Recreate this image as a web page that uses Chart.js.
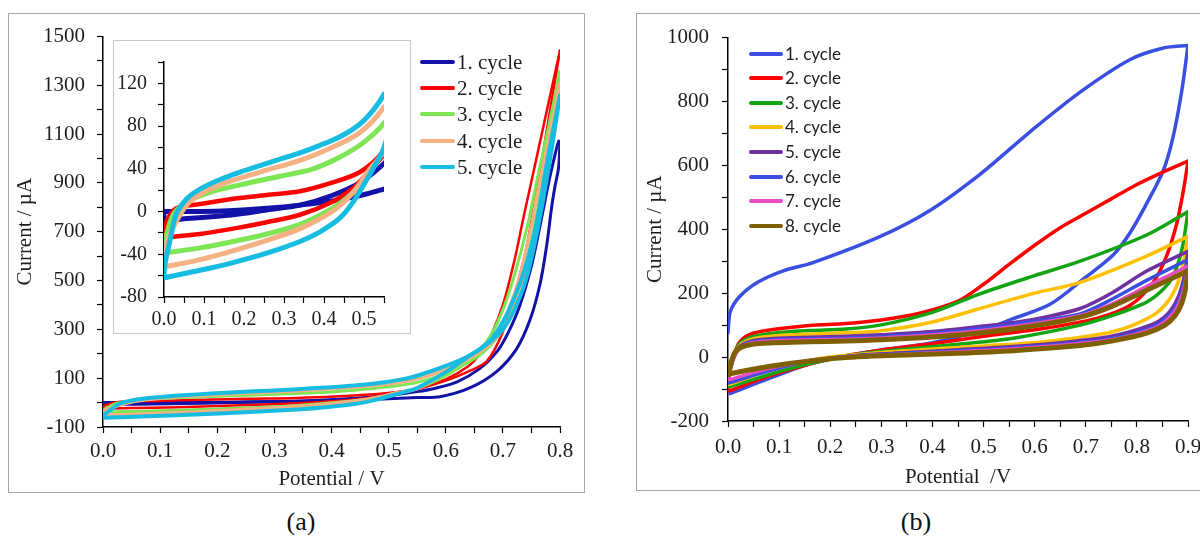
<!DOCTYPE html>
<html>
<head>
<meta charset="utf-8">
<script src="https://cdn.jsdelivr.net/npm/chart.js@4.4.0/dist/chart.umd.min.js"></script>
<style>
  html,body{margin:0;padding:0;background:#fff;}
  body{width:1200px;height:537px;position:relative;overflow:hidden;font-family:'Liberation Serif',serif;}
  .box{position:absolute;background:#fff;}
  canvas{display:block;}
  .lgrow{position:absolute;white-space:nowrap;color:#222;}
  .lgline{position:absolute;}
  .cap{position:absolute;font-family:'Liberation Serif',serif;font-size:26px;color:#111;transform:translate(-50%,-50%);}
</style>
</head>
<body>
<div class="box" style="left:8px;top:13px;width:575px;height:478px;border:1px solid #a6a6a6;"><canvas id="cA" width="575" height="478"></canvas></div>
<div class="box" style="left:113px;top:40px;width:296px;height:292px;border:1px solid #c8c8c8;"><canvas id="cIn" width="296" height="292"></canvas></div>
<div class="box" style="left:636px;top:13px;width:600px;height:476px;border:1px solid #a6a6a6;"><canvas id="cB" width="600" height="476"></canvas></div>
<div id="legA"></div>
<div id="legB"></div>
<div class="cap" style="left:301px;top:522px;">(a)</div>
<div class="cap" style="left:916px;top:522px;">(b)</div>
<script>
// ---------------- Panel (a): potential (V), current (µA) ----------------
const aLabels = ['1. cycle','2. cycle','3. cycle','4. cycle','5. cycle'];
const aColors = ['#1212a8','#ff0000','#7ee554','#f4b183','#17bde0'];
// forward (upper at low potential) and reverse branches of each cycle
const aC1Fwd = [[0,0],[0.09,0],[0.173,1],[0.257,3],[0.34,6],[0.42,10],[0.49,15],[0.55,21],[0.59,24],[0.642,60],[0.689,127],[0.724,220],[0.7475,339],[0.765,485],[0.7767,644],[0.7855,803],[0.791,883],[0.7975,963],[0.8,1065]];
const aC1Rev = [[0.8,1065],[0.7976,1071],[0.7913,1016],[0.78,900],[0.765,724],[0.75,560],[0.73,400],[0.71,290],[0.69,210],[0.66,140],[0.62,85],[0.58,58],[0.55,45],[0.49,27],[0.42,15],[0.34,6],[0.257,1.5],[0.173,-3],[0.057,-6.5],[0,-7.5],[0,0]];
const aC2Fwd = [[0,-24],[0.003,-12],[0.03,3],[0.09,7],[0.173,12],[0.257,15.5],[0.34,19],[0.42,27],[0.49,37],[0.55,57],[0.6,90],[0.64,128],[0.672,170],[0.7,290],[0.724,472],[0.742,644],[0.76,880],[0.78,1160],[0.8,1443]];
const aC2Rev = [[0.8,1443],[0.78,1229],[0.76,1014],[0.74,800],[0.733,724],[0.72,580],[0.7,400],[0.68,280],[0.66,200],[0.64,150],[0.6,95],[0.55,54],[0.523,42],[0.473,22],[0.42,9],[0.34,-3],[0.257,-10],[0.173,-16],[0.09,-21],[0.01,-24],[0,-24]];
const aC3Fwd = [[0,-39],[0.003,-27],[0.023,-3],[0.057,9],[0.115,18],[0.19,25],[0.29,33],[0.373,40],[0.44,51],[0.5,65],[0.55,83],[0.6,120],[0.64,165],[0.67,215],[0.7,300],[0.72,400],[0.74,560],[0.76,780],[0.78,1050],[0.8,1358]];
const aC3Rev = [[0.8,1358],[0.78,1130],[0.76,915],[0.743,724],[0.72,520],[0.7,380],[0.68,280],[0.66,215],[0.64,170],[0.6,110],[0.55,57],[0.515,39],[0.473,18],[0.42,3],[0.34,-12],[0.257,-21],[0.173,-28],[0.09,-34],[0,-39]];
const aC4Fwd = [[0,-52],[0.003,-33],[0.04,-3],[0.073,12],[0.14,25],[0.24,37],[0.34,48],[0.42,60],[0.49,74],[0.55,98],[0.6,135],[0.64,180],[0.67,225],[0.7,300],[0.72,390],[0.74,530],[0.76,740],[0.78,1000],[0.8,1308]];
const aC4Rev = [[0.8,1308],[0.78,1075],[0.76,850],[0.75,724],[0.73,520],[0.71,380],[0.69,290],[0.67,235],[0.64,185],[0.6,125],[0.55,57],[0.515,40],[0.473,18],[0.42,0],[0.34,-16],[0.257,-27],[0.17,-37],[0.09,-45],[0,-52]];
const aC5Fwd = [[0,-62],[0.002,-50],[0.015,-27],[0.03,-3],[0.057,12],[0.09,21],[0.14,30],[0.19,37],[0.24,43],[0.29,49],[0.34,55],[0.39,62],[0.44,70],[0.49,82],[0.523,95],[0.55,110],[0.6,150],[0.642,193],[0.67,235],[0.7,300],[0.72,380],[0.74,500],[0.76,700],[0.78,960],[0.8,1258]];
const aC5Rev = [[0.8,1258],[0.78,1020],[0.758,724],[0.74,560],[0.72,430],[0.7,330],[0.68,260],[0.66,220],[0.642,193],[0.6,125],[0.55,60],[0.53,45],[0.507,30],[0.473,9],[0.44,-6],[0.39,-19],[0.34,-28],[0.257,-39],[0.17,-48],[0.09,-55],[0,-62]];
const aBranches = [[aC1Fwd,aC1Rev],[aC2Fwd,aC2Rev],[aC3Fwd,aC3Rev],[aC4Fwd,aC4Rev],[aC5Fwd,aC5Rev]];
const aWidthMain = [3,2.5,3,3.5,4];
const aWidthInset = [5,4.5,5,5,5];

// ---------------- Panel (b) ----------------
const bLabels = ['1. cycle','2. cycle','3. cycle','4. cycle','5. cycle','6. cycle','7. cycle','8. cycle'];
const bColors = ['#3a4fe2','#ff0000','#12a412','#ffc000','#7030a0','#3a4fe2','#e84cc4','#7f6000'];
const bC1Fwd = [[0,77],[0.0045,142],[0.022,188],[0.058,234],[0.108,270],[0.165,295],[0.297,377],[0.395,459],[0.493,572],[0.591,705],[0.689,829],[0.787,931],[0.852,967],[0.9,975]];
const bC1Rev = [[0.9,975],[0.888,835],[0.871,690],[0.852,585],[0.819,480],[0.787,390],[0.754,320],[0.7,250],[0.63,165],[0.558,120],[0.5,85],[0.4,45],[0.303,23],[0.231,3],[0.159,-22],[0.087,-63],[0.004,-114]];
const bC2Fwd = [[0,-105],[0.004,-45],[0.02,40],[0.043,71],[0.087,86],[0.159,99],[0.231,105],[0.303,117],[0.375,137],[0.45,175],[0.5,228],[0.55,290],[0.6,350],[0.65,405],[0.7,450],[0.75,495],[0.8,540],[0.85,578],[0.9,613]];
const bC2Rev = [[0.9,613],[0.891,521],[0.878,418],[0.858,316],[0.832,234],[0.787,162],[0.721,121],[0.62,90],[0.5,65],[0.4,42],[0.3,22],[0.2,-5],[0.13,-35],[0.07,-65],[0.004,-105],[0,-105]];
const bC3Fwd = [[0,-92],[0.004,-40],[0.02,35],[0.045,62],[0.09,75],[0.16,83],[0.23,88],[0.297,100],[0.4,140],[0.493,198],[0.6,255],[0.689,300],[0.819,382],[0.9,455]];
const bC3Rev = [[0.9,455],[0.888,336],[0.871,254],[0.852,213],[0.819,172],[0.754,131],[0.689,100],[0.558,59],[0.45,40],[0.35,25],[0.25,8],[0.16,-20],[0.09,-50],[0.004,-92],[0,-92]];
const bC4Fwd = [[0,-85],[0.004,-40],[0.02,30],[0.045,55],[0.09,66],[0.16,72],[0.23,76],[0.297,82],[0.4,110],[0.493,152],[0.6,200],[0.689,234],[0.819,316],[0.9,378]];
const bC4Rev = [[0.9,378],[0.885,255],[0.865,184],[0.832,131],[0.754,80],[0.624,49],[0.5,35],[0.4,25],[0.3,14],[0.2,0],[0.13,-22],[0.07,-48],[0.004,-85],[0,-85]];
const bC5Fwd = [[0,-75],[0.004,-35],[0.02,28],[0.045,50],[0.09,58],[0.16,62],[0.23,65],[0.3,70],[0.4,80],[0.5,97],[0.56,108],[0.62,125],[0.689,152],[0.75,200],[0.82,270],[0.9,331]];
const bC5Rev = [[0.9,331],[0.893,255],[0.88,185],[0.86,135],[0.83,102],[0.75,65],[0.65,45],[0.55,32],[0.45,23],[0.35,14],[0.25,5],[0.15,-15],[0.07,-45],[0.004,-75],[0,-75]];
const bC6Fwd = [[0,-80],[0.004,-38],[0.02,25],[0.045,47],[0.09,54],[0.16,57],[0.23,60],[0.3,64],[0.4,74],[0.5,90],[0.6,112],[0.689,135],[0.75,180],[0.819,240],[0.9,305]];
const bC6Rev = [[0.9,305],[0.893,235],[0.88,170],[0.86,125],[0.83,94],[0.75,58],[0.65,40],[0.55,28],[0.45,20],[0.35,12],[0.25,4],[0.15,-15],[0.07,-48],[0.004,-80],[0,-80]];
const bC7Fwd = [[0,-70],[0.004,-32],[0.02,22],[0.045,44],[0.09,51],[0.16,54],[0.23,56],[0.3,60],[0.4,70],[0.5,84],[0.6,105],[0.689,130],[0.75,165],[0.82,222],[0.9,285]];
const bC7Rev = [[0.9,285],[0.893,220],[0.88,160],[0.86,118],[0.83,88],[0.75,54],[0.65,37],[0.55,25],[0.45,17],[0.35,10],[0.25,3],[0.15,-13],[0.07,-40],[0.004,-70],[0,-70]];
const bC8Fwd = [[0,-55],[0.004,-28],[0.015,18],[0.04,38],[0.09,45],[0.16,48],[0.23,50],[0.3,54],[0.4,63],[0.5,77],[0.6,98],[0.689,125],[0.75,158],[0.82,210],[0.9,270]];
const bC8Rev = [[0.9,270],[0.896,220],[0.888,170],[0.875,130],[0.855,100],[0.819,75],[0.75,50],[0.689,36],[0.558,20],[0.45,12],[0.3,4],[0.2,-5],[0.12,-20],[0.06,-35],[0.004,-52],[0,-55]];
const bBranches = [[bC1Fwd,bC1Rev],[bC2Fwd,bC2Rev],[bC3Fwd,bC3Rev],[bC4Fwd,bC4Rev],[bC5Fwd,bC5Rev],[bC6Fwd,bC6Rev],[bC7Fwd,bC7Rev],[bC8Fwd,bC8Rev]];
const bWidth = [3.5,3.5,3.5,3.5,3.5,3.5,3.5,5];

// ---------------- helpers ----------------
const SERIF = "'Liberation Serif', 'Times New Roman', serif";
function pts(a){ return a.map(p => ({x:p[0], y:p[1]})); }
function makeSets(branches, colors, labels, widths, tension){
  const sets = [];
  branches.forEach((br, i) => {
    br.forEach(arr => {
      sets.push({label:labels[i], data:pts(arr), borderColor:colors[i], backgroundColor:colors[i],
        borderWidth:widths[i], showLine:true, pointRadius:0, pointHoverRadius:0, fill:false,
        tension:tension, order:-i, borderCapStyle:'round', borderJoinStyle:'round'});
    });
  });
  return sets;
}
const xLab = v => (Math.abs(v*10 - Math.round(v*10)) < 1e-6) ? v.toFixed(1) : '';
function axis(o){
  return {
    type:'linear', min:o.min, max:o.max, position:o.pos,
    border:{display:true, color:'#000', width:1.5},
    grid:{display:true, drawOnChartArea:false, drawTicks:true, tickLength:6, tickColor:'#000', tickWidth:1.2},
    ticks:{stepSize:o.step, maxTicksLimit:1000, autoSkip:false, maxRotation:0, minRotation:0,
      padding:o.pad, color:'#1e1e1e', font:{family:SERIF, size:o.fs, lineHeight:1}, callback:o.cb},
    title: o.title ? {display:true, text:o.title, color:'#1e1e1e',
      font:{family:SERIF, size:21, lineHeight:1.2}, padding:o.tpad} : {display:false},
    afterFit: s => { if (o.pos === 'left') s.width = o.size; else s.height = o.size; }
  };
}
function baseOpts(pad, xa, ya){
  return {responsive:false, animation:false, devicePixelRatio:1, events:[],
    layout:{padding:pad},
    plugins:{legend:{display:false}, tooltip:{enabled:false}},
    scales:{x:xa, y:ya}};
}

// main (a)
new Chart(document.getElementById('cA'), {
  type:'scatter',
  data:{datasets: makeSets(aBranches, aColors, aLabels, aWidthMain, 0.3)},
  options: baseOpts({left:0, top:11, right:24, bottom:0},
    axis({min:0, max:0.8, step:0.05, pos:'bottom', pad:8, fs:21, cb:xLab, size:65,
          title:'Potential / V', tpad:{top:0, bottom:0}}),
    axis({min:-100, max:1500, step:100, pos:'left', pad:12, fs:21, size:94,
          cb: v => ((v + 100) % 200 === 0) ? String(v) : '',
          title:'Current / µA', tpad:{top:3.5, bottom:0}}))
});

// inset (a)
new Chart(document.getElementById('cIn'), {
  type:'scatter',
  data:{datasets: makeSets(aBranches, aColors, aLabels, aWidthInset, 0.3)},
  options: baseOpts({left:0, top:9, right:26, bottom:0},
    axis({min:0, max:0.55, step:0.05, pos:'bottom', pad:7, fs:20, cb:xLab, size:36}),
    axis({min:-80, max:140, step:20, pos:'left', pad:11, fs:20, size:50,
          cb: v => ((v + 80) % 40 === 0) ? String(v) : ''}))
});

// panel (b)
new Chart(document.getElementById('cB'), {
  type:'scatter',
  data:{datasets: makeSets(bBranches, bColors, bLabels, bWidth, 0.3)},
  options: baseOpts({left:0, top:18, right:49, bottom:0},
    axis({min:0, max:0.9, step:0.05, pos:'bottom', pad:10, fs:21, cb:xLab, size:69,
          title:'Potential  /V', tpad:{top:0, bottom:0}}),
    axis({min:-200, max:1000, step:100, pos:'left', pad:13, fs:21, size:91,
          cb: v => (v % 200 === 0) ? String(v) : '',
          title:'Current / µA', tpad:{top:5.4, bottom:0}}))
});

// legends (HTML text)
function legend(el, labels, colors, o){
  labels.forEach((t, i) => {
    const cy = o.y0 + i * o.dy;
    const ln = document.createElement('div');
    ln.className = 'lgline';
    ln.style.cssText = `left:${o.x0}px;top:${cy - o.lw/2}px;width:${o.len}px;height:${o.lw}px;background:${colors[i]};border-radius:2px;`;
    el.appendChild(ln);
    const tx = document.createElement('div');
    tx.className = 'lgrow';
    tx.textContent = t;
    tx.style.cssText = `left:${o.tx}px;top:${cy - o.lh/2}px;height:${o.lh}px;line-height:${o.lh}px;font-family:${o.font};font-size:${o.fs}px;color:#1e1e1e;`;
    el.appendChild(tx);
  });
}
legend(document.getElementById('legA'), aLabels, aColors,
  {x0:420, len:35, lw:4, tx:457, y0:62, dy:26.2, lh:24, fs:21, font:SERIF});
legend(document.getElementById('legB'), bLabels, bColors,
  {x0:749, len:34, lw:4, tx:785, y0:53.5, dy:24.6, lh:22, fs:17, font:"Lato, 'Open Sans', sans-serif"});
</script>
</body>
</html>
